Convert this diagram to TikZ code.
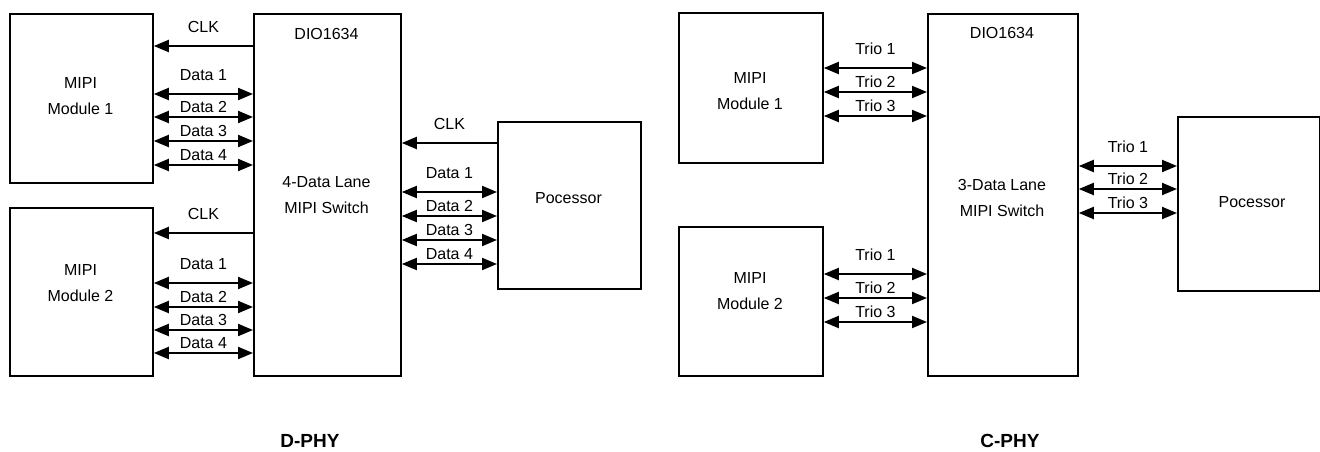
\documentclass[tikz,border=0pt]{standalone}
\usepackage{fontspec}
\setmainfont{Liberation Sans}
\usetikzlibrary{arrows.meta}

\tikzset{
  box/.style={draw, line width=1.8pt, anchor=north west, inner sep=0pt},
  txt/.style={font=\fontsize{16}{26}\selectfont, align=center, inner sep=0pt},
  lane/.style={line width=2pt, {Triangle[length=15pt,width=12pt]}-{Triangle[length=15pt,width=12pt]}},
  clk/.style={line width=2pt, -{Triangle[length=15pt,width=12pt]}},
  lbl/.style={font=\fontsize{16}{18}\selectfont, inner sep=0pt, above=3pt},
  lbltop/.style={lbl, above=9pt},
  phy/.style={font=\fontsize{19}{21}\selectfont\bfseries, inner sep=0pt}
}

\begin{document}
\begin{tikzpicture}[x=1pt, y=-1pt]
  \useasboundingbox (0,0) rectangle (1320,452);

  % D-PHY
  \node[box, minimum width=143pt, minimum height=169pt] (dmodA) at (9,13) {};
  \node[box, minimum width=143pt, minimum height=168pt] (dmodB) at (9,207) {};
  \node[box, minimum width=147pt, minimum height=362pt] (dsw) at (253,13) {};
  \node[box, minimum width=143pt, minimum height=167pt] (dpro) at (497,121) {};
  \node[txt] (dmodAt) at (80.5,96) {MIPI\\Module 1};
  \node[txt] (dmodBt) at (80.5,283) {MIPI\\Module 2};
  \node[txt] (dswt) at (326.5,34) {DIO1634};
  \node[txt] (dswl) at (326.5,195.5) {4-Data Lane\\MIPI Switch};
  \node[txt] (dprot) at (568.5,198) {Pocessor};

  \path[clk]
    (dsw.west |- 0,46) edge node [lbltop] {CLK} (dmodA.east |- 0,46)
    (dsw.west |- 0,233) edge node [lbltop] {CLK} (dmodB.east |- 0,233)
    (dpro.west |- 0,143) edge node [lbltop] {CLK} (dsw.east |- 0,143);
  \path[lane]
    (dmodA.east |- 0,94) edge node [lbltop] {Data 1} (dsw.west |- 0,94)
    (dmodA.east |- 0,117) edge node [lbl] {Data 2} (dsw.west |- 0,117)
    (dmodA.east |- 0,141) edge node [lbl] {Data 3} (dsw.west |- 0,141)
    (dmodA.east |- 0,165) edge node [lbl] {Data 4} (dsw.west |- 0,165)
    (dmodB.east |- 0,283) edge node [lbltop] {Data 1} (dsw.west |- 0,283)
    (dmodB.east |- 0,307) edge node [lbl] {Data 2} (dsw.west |- 0,307)
    (dmodB.east |- 0,330) edge node [lbl] {Data 3} (dsw.west |- 0,330)
    (dmodB.east |- 0,353) edge node [lbl] {Data 4} (dsw.west |- 0,353)
    (dsw.east |- 0,192) edge node [lbltop] {Data 1} (dpro.west |- 0,192)
    (dsw.east |- 0,216) edge node [lbl] {Data 2} (dpro.west |- 0,216)
    (dsw.east |- 0,240) edge node [lbl] {Data 3} (dpro.west |- 0,240)
    (dsw.east |- 0,264) edge node [lbl] {Data 4} (dpro.west |- 0,264);

  % C-PHY
  \node[box, minimum width=144pt, minimum height=150pt] (cmodA) at (678,12) {};
  \node[box, minimum width=144pt, minimum height=149pt] (cmodB) at (678,226) {};
  \node[box, minimum width=150pt, minimum height=362pt] (csw) at (927,13) {};
  \node[box, minimum width=142pt, minimum height=174pt] (cpro) at (1177,116) {};
  \node[txt] (cmodAt) at (750,91) {MIPI\\Module 1};
  \node[txt] (cmodBt) at (750,291.5) {MIPI\\Module 2};
  \node[txt] (cswt) at (1002,33) {DIO1634};
  \node[txt] (cswl) at (1002,198) {3-Data Lane\\MIPI Switch};
  \node[txt] (cprot) at (1252,202) {Pocessor};

  \path[lane]
    (cmodA.east |- 0,68) edge node [lbltop] {Trio 1} (csw.west |- 0,68)
    (cmodA.east |- 0,92) edge node [lbl] {Trio 2} (csw.west |- 0,92)
    (cmodA.east |- 0,116) edge node [lbl] {Trio 3} (csw.west |- 0,116)
    (cmodB.east |- 0,274) edge node [lbltop] {Trio 1} (csw.west |- 0,274)
    (cmodB.east |- 0,298) edge node [lbl] {Trio 2} (csw.west |- 0,298)
    (cmodB.east |- 0,322) edge node [lbl] {Trio 3} (csw.west |- 0,322)
    (csw.east |- 0,166) edge node [lbltop] {Trio 1} (cpro.west |- 0,166)
    (csw.east |- 0,189) edge node [lbl] {Trio 2} (cpro.west |- 0,189)
    (csw.east |- 0,213) edge node [lbl] {Trio 3} (cpro.west |- 0,213);

  \node[phy] (dphy) at (310,441) {D-PHY};
  \node[phy] (cphy) at (1010,441) {C-PHY};
\end{tikzpicture}
\end{document}
